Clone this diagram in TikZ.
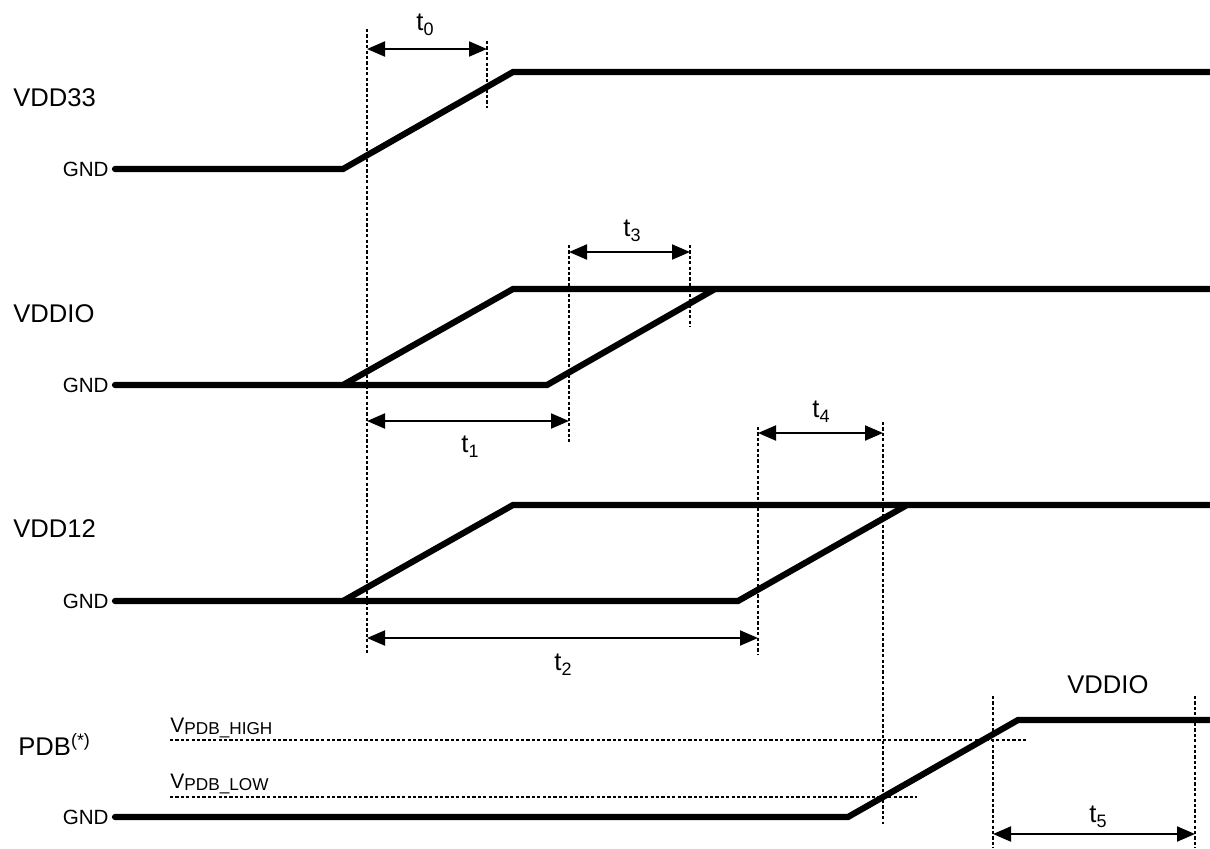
\documentclass[tikz,border=0pt]{standalone}
\usepackage{fontspec}
\setmainfont{Liberation Sans}
\usetikzlibrary{arrows.meta}
\newcommand{\tsub}[1]{\raisebox{-0.22em}{\fontsize{9}{10}\selectfont #1}}
\newcommand{\vsub}[1]{\raisebox{-0.12em}{\fontsize{8.6}{10}\selectfont #1}}
\begin{document}
\begin{tikzpicture}[x=0.5pt,y=-0.5pt,
  sig/.style={line width=3.1pt, line cap=round, line join=miter},
  guide/.style={line width=1.1pt, dash pattern=on 1.6pt off 1.1pt},
  dimarrow/.style={line width=1pt, {Triangle[length=9pt,width=7.5pt]}-{Triangle[length=9pt,width=7.5pt]}},
  biglbl/.style={inner sep=0pt, font=\fontsize{12.8}{15}\selectfont},
  gndlbl/.style={inner sep=0pt, anchor=east, font=\fontsize{10.3}{12}\selectfont},
  tlbl/.style={inner sep=0pt, anchor=base, font=\fontsize{12.8}{15}\selectfont},
  vlbl/.style={inner sep=0pt, anchor=base west, font=\fontsize{10.5}{12}\selectfont}]
\useasboundingbox (0,0) rectangle (1210,848);

% signal labels
\node[biglbl, anchor=base west] (l1) at (13,106) {VDD33};
\node[biglbl, anchor=base west] (l2) at (13,322) {VDDIO};
\node[biglbl, anchor=base west] (l3) at (13,537) {VDD12};
\node[biglbl, anchor=base west] (l4) at (18,755) {PDB\textsuperscript{(*)}};
\node[biglbl, anchor=base west] (l5) at (1067,693) {VDDIO};

\node[gndlbl] (g1) at (109,169) {GND};
\node[gndlbl] (g2) at (109,385) {GND};
\node[gndlbl] (g3) at (109,601) {GND};
\node[gndlbl] (g4) at (109,817) {GND};

% signals
\draw[sig] ([xshift=3pt]g1.east) -- (343,169) -- (513,72) -- (1210,72);
\draw[sig] (343,385) -- (513,289) -- (1210,289);
\draw[sig] ([xshift=3pt]g2.east) -- (547,385) -- (715,289);
\draw[sig] (343,601) -- (513,505) -- (1210,505);
\draw[sig] ([xshift=3pt]g3.east) -- (738,601) -- (907,505);
\draw[sig] ([xshift=3pt]g4.east) -- (848,817) -- (1018,720) -- (1210,720);

% guide coordinates
\coordinate (a0) at (367,29);  \coordinate (a1) at (367,655);
\coordinate (b0) at (487,41);  \coordinate (b1) at (487,108);
\coordinate (c0) at (569,245); \coordinate (c1) at (569,442);
\coordinate (d0) at (690,245); \coordinate (d1) at (690,327);
\coordinate (e0) at (758,427); \coordinate (e1) at (758,655);
\coordinate (f0) at (883,422); \coordinate (f1) at (883,824);
\coordinate (h0) at (993,696); \coordinate (h1) at (993,848);
\coordinate (k0) at (1195,696); \coordinate (k1) at (1195,848);
\coordinate (vh0) at (170,740); \coordinate (vh1) at (1028,740);
\coordinate (vl0) at (170,797); \coordinate (vl1) at (917,797);

\foreach \p in {a,b,c,d,e,f,h,k} \draw[guide] (\p0) -- (\p1);
\draw[guide] (vh0) -- (vh1);
\draw[guide] (vl0) -- (vl1);

\node[vlbl] (vh) at (170,732) {V\vsub{PDB\_HIGH}};
\node[vlbl] (vl) at (170,788) {V\vsub{PDB\_LOW}};

% timing arrows
\coordinate (t0a) at (367,49);  \coordinate (t0b) at (487,49);
\coordinate (t3a) at (569,252); \coordinate (t3b) at (690,252);
\coordinate (t1a) at (367,421); \coordinate (t1b) at (569,421);
\coordinate (t4a) at (758,433); \coordinate (t4b) at (883,433);
\coordinate (t2a) at (367,638); \coordinate (t2b) at (758,638);
\coordinate (t5a) at (993,834); \coordinate (t5b) at (1195,834);
\draw[dimarrow] (t0a) -- (t0b);
\draw[dimarrow] (t3a) -- (t3b);
\draw[dimarrow] (t1a) -- (t1b);
\draw[dimarrow] (t4a) -- (t4b);
\draw[dimarrow] (t2a) -- (t2b);
\draw[dimarrow] (t5a) -- (t5b);

\node[tlbl] (n0) at (425,30) {t\tsub{0}};
\node[tlbl] (n3) at (632,236) {t\tsub{3}};
\node[tlbl] (n1) at (470,452) {t\tsub{1}};
\node[tlbl] (n4) at (821,417) {t\tsub{4}};
\node[tlbl] (n2) at (563,670) {t\tsub{2}};
\node[tlbl] (n5) at (1098,822) {t\tsub{5}};
\end{tikzpicture}
\end{document}
